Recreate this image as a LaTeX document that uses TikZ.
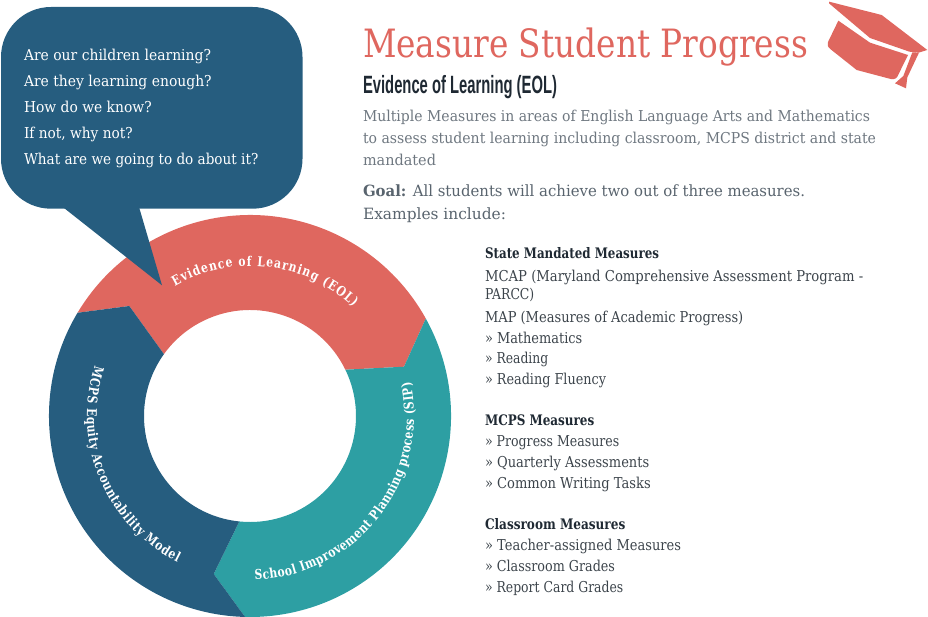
\documentclass[tikz,border=0pt]{standalone}
\usepackage{fontspec}
\usepackage{graphicx}
\usetikzlibrary{calc,decorations.text}
\setmainfont{DejaVu Serif}
\newfontfamily\arcfont[FakeStretch=.8]{DejaVu Serif}
\newfontfamily\headfont{Liberation Sans}
\definecolor{cred}{HTML}{DF675F}
\definecolor{cblue}{HTML}{265D7F}
\definecolor{cteal}{HTML}{2D9FA3}
\definecolor{cpara}{HTML}{6E7780}
\definecolor{cgoal}{HTML}{59646E}
\definecolor{clist}{HTML}{3C444B}
\definecolor{chead}{HTML}{1F2933}
\tikzset{
  txt/.style={inner sep=0pt,outer sep=0pt,anchor=base west},
  bub/.style={txt,text=white,font=\fontsize{15}{15}\selectfont},
  para/.style={txt,text=cpara,font=\fontsize{15}{15}\selectfont},
  goal/.style={txt,text=cgoal,font=\fontsize{15.5}{15.5}\selectfont},
  item/.style={txt,text=clist,font=\fontsize{15}{15}\selectfont},
  lhead/.style={txt,text=chead,font=\fontsize{14.5}{14.5}\selectfont\bfseries},
  arctext/.style={decorate,decoration={text along path,text align={fit to path},text={#1}}}
}
\newcommand\arcfmt{|\arcfont\bfseries\fontsize{13.5}{13.5}\selectfont\color{white}|}
% style, name, x, baseline, right end, text
\newcommand\tl[6]{%
  \pgfmathsetmacro\tlw{#5-#3}%
  \pgfmathsetmacro\tly{-#4-0.5}%
  \node[#1] (#2) at (#3,\tly) {\resizebox{\tlw pt}{\height}{#6}};}
\begin{document}
\begin{tikzpicture}[x=1pt,y=1pt]
\useasboundingbox (0,0) rectangle (928,-617);
\coordinate (c) at (250,-416);
\coordinate (rk) at (404,-366.7);
\coordinate (rn) at (129.3,-306);
\coordinate (tn) at (213.7,-574);
% ring
\fill[cred] ($(c)+(149.1:201)$) arc[start angle=149.1,end angle=29,radius=201] -- (rk)
  -- ($(c)+(25.9:106)$) arc[start angle=25.9,end angle=144.3,radius=106] -- (rn) -- cycle;
\fill[cteal] ($(c)+(29:201)$) arc[start angle=29,end angle=-91.4,radius=201] -- (tn)
  -- ($(c)+(264.2:106)$) arc[start angle=264.2,end angle=385.9,radius=106] -- (rk) -- cycle;
\fill[cblue] ($(c)+(149.1:201)$) arc[start angle=149.1,end angle=268.6,radius=201] -- (tn)
  -- ($(c)+(264.2:106)$) arc[start angle=264.2,end angle=144.3,radius=106] -- (rn) -- cycle;
% ring labels
\path[arctext={\arcfmt Evidence of Learning (EOL)}] ($(c)+(120:150)$) arc[start angle=120,end angle=46.5,radius=150];
\path[arctext={\arcfmt MCPS Equity Accountability Model}] ($(c)+(162:163)$) arc[start angle=162,end angle=243.5,radius=163];
\path[arctext={\arcfmt School Improvement Planning process (SIP)}] ($(c)+(271.7:164)$) arc[start angle=271.7,end angle=372,radius=164];
% bubble
\fill[cblue,rounded corners=50pt] (1,-7) rectangle (302.5,-208.7);
\fill[cblue] (64,-208) -- (162,-285.3) -- (139.3,-208) -- cycle;
\tl{bub}{b1}{24}{60}{211}{Are our children learning?}
\tl{bub}{b2}{24}{86}{211.7}{Are they learning enough?}
\tl{bub}{b3}{24}{112.3}{151.7}{How do we know?}
\tl{bub}{b4}{24}{138.3}{132.7}{If not, why not?}
\tl{bub}{b5}{24}{164}{258.3}{What are we going to do about it?}
% title block
\tl{txt,text=cred,font=\fontsize{39}{39}\selectfont}{title}{363}{57}{808}{Measure Student Progress}
\tl{txt,text=chead,font=\headfont\bfseries\fontsize{25}{25}\selectfont}{sub}{363}{93}{557}{Evidence of Learning (EOL)}
\tl{para}{p1}{363}{121}{870}{Multiple Measures in areas of English Language Arts and Mathematics}
\tl{para}{p2}{363}{143}{876}{to assess student learning including classroom, MCPS district and state}
\tl{para}{p3}{363}{165}{436}{mandated}
\tl{goal}{g1}{363}{196}{805}{\textbf{Goal:} All students will achieve two out of three measures.}
\tl{goal}{g2}{363}{219}{506}{Examples include:}
% lists
\tl{lhead}{h1}{485}{258.3}{659}{State Mandated Measures}
\tl{item}{i1}{485}{280.7}{863.3}{MCAP (Maryland Comprehensive Assessment Program -}
\tl{item}{i2}{485}{299.3}{534.3}{PARCC)}
\tl{item}{i3}{485}{321.7}{743.3}{MAP (Measures of Academic Progress)}
\tl{item}{i4}{485}{342.7}{582.3}{» Mathematics}
\tl{item}{i5}{485}{363.3}{548.3}{» Reading}
\tl{item}{i6}{485}{384.3}{606}{» Reading Fluency}
\tl{lhead}{h2}{485}{425}{594.3}{MCPS Measures}
\tl{item}{i7}{485}{446}{619.3}{» Progress Measures}
\tl{item}{i8}{485}{466.7}{649.3}{» Quarterly Assessments}
\tl{item}{i9}{485}{487.7}{650.7}{» Common Writing Tasks}
\tl{lhead}{h3}{485}{529}{625.3}{Classroom Measures}
\tl{item}{i10}{485}{550}{681}{» Teacher-assigned Measures}
\tl{item}{i11}{485}{570.7}{615}{» Classroom Grades}
\tl{item}{i12}{485}{591.7}{623.3}{» Report Card Grades}
% mortarboard
\begin{scope}[shift={(820,0)},x=0.3333pt,y=-0.3333pt]
\fill[cred,line join=round] (27,5) -- (185,45) -- (322,150) -- (296,158) -- (268,155) -- (150,114) -- (27,10) -- cycle;
\fill[cred] (277,157) -- (297,158) -- (262,232) -- (258,265) -- (225,250) -- (250,228) -- cycle;
\fill[cred] (55,62) -- (150,128) -- (264,165) -- (236,222) .. controls (232,234) and (224,240) .. (212,237) -- (110,210) -- (32,148) .. controls (24,142) and (20,134) .. (24,126) -- cycle;
\end{scope}
\end{tikzpicture}
\end{document}
